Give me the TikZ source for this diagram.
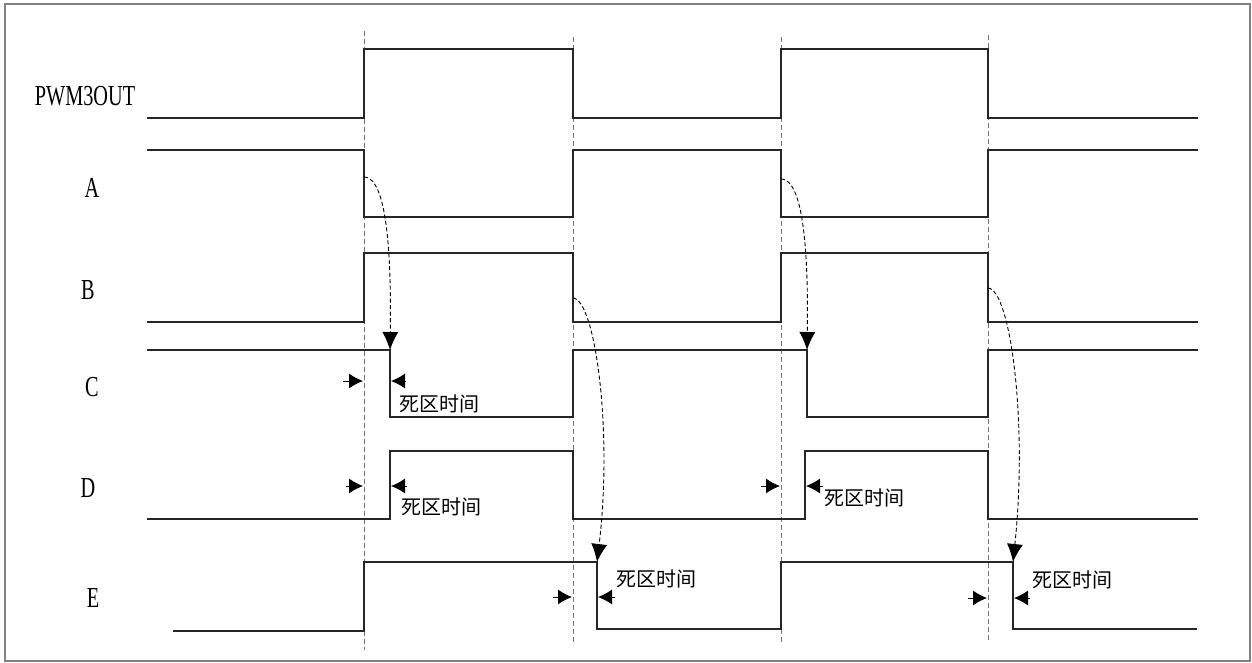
\documentclass[tikz,border=0pt]{standalone}
\usepackage{fontspec}
\setmainfont{Liberation Serif}
\newfontfamily\cjk{Noto Sans CJK SC}
\usepackage{tikz}
\usetikzlibrary{arrows.meta,calc,positioning}
\tikzset{%
	signal/.style   = {line width=1.3pt, black!85, line join=miter}, % waveform
	guide/.style    = {gray!90!black, line width=0.9pt, dash pattern=on 5pt off 3pt}, % edge line
	cause/.style    = {line width=0.9pt, dash pattern=on 4pt off 2.5pt, arrows={-Latex[length=18pt,width=16pt]}},
	gap/.style      = {line width=0.9pt, arrows={-Latex[length=14pt,width=15pt]}},
	signame/.style  = {inner sep=0pt, font=\fontsize{29}{29}\selectfont},
	dead/.style     = {inner sep=0pt, anchor=west, font=\cjk\fontsize{20}{20}\selectfont},
}
\newcommand{\sname}[1]{\scalebox{0.7}[1]{#1}}

\begin{document}
\begin{tikzpicture}[x=1pt,y=-1pt]
	\useasboundingbox (0,0) rectangle (1252,662);
	\draw[gray, line width=1.4pt] (5,4) rectangle (1250,661);

	% signal names
	\node [signame] (pwm) at (85,96)  {\sname{PWM3OUT}};
	\node [signame] (a)   at (92,188) {\sname{A}};
	\node [signame] (b)   at (88,290) {\sname{B}};
	\node [signame] (c)   at (92,387) {\sname{C}};
	\node [signame] (d)   at (88,488) {\sname{D}};
	\node [signame] (e)   at (93,598) {\sname{E}};

	% edges of PWM3OUT
	\foreach \x/\t/\b in {364/31/650, 573/37/645, 781/37/643, 988/35/641}
		\draw[guide] (\x,\t) -- (\x,\b);

	% waveforms
	\draw[signal] (147,118) -- (364,118) -- (364,49) -- (573,49) -- (573,118) -- (781,118)
		-- (781,49) -- (988,49) -- (988,118) -- (1198,118);
	\draw[signal] (147,150) -- (364,150) -- (364,217) -- (573,217) -- (573,150) -- (781,150)
		-- (781,217) -- (988,217) -- (988,150) -- (1198,150);
	\draw[signal] (147,322) -- (364,322) -- (364,253) -- (573,253) -- (573,322) -- (781,322)
		-- (781,253) -- (988,253) -- (988,322) -- (1198,322);
	\draw[signal] (147,350) -- (390,350) -- (390,417) -- (573,417) -- (573,350) -- (807,350)
		-- (807,417) -- (988,417) -- (988,350) -- (1198,350);
	\draw[signal] (147,519) -- (390,519) -- (390,451) -- (573,451) -- (573,519) -- (805,519)
		-- (805,451) -- (988,451) -- (988,519) -- (1198,519);
	\draw[signal] (173,631) -- (364,631) -- (364,562) -- (597,562) -- (597,629) -- (781,629)
		-- (781,562) -- (1013,562) -- (1013,629) -- (1197,629);

	% cause -> effect
	\coordinate (af1) at (364,177);  \coordinate (cf1) at (390,350);
	\coordinate (bf1) at (573,298);  \coordinate (ef1) at (597,562);
	\coordinate (af2) at (781,179);  \coordinate (cf2) at (807,350);
	\coordinate (bf2) at (988,288);  \coordinate (ef2) at (1013,562);
	\draw[cause] (af1) .. controls (380,177) and (392,215) .. (cf1);
	\draw[cause] (bf1) .. controls (595,299) and (613,430) .. (ef1);
	\draw[cause] (af2) .. controls (797,179) and (809,217) .. (cf2);
	\draw[cause] (bf2) .. controls (1010,289) and (1028,420) .. (ef2);

	% dead time marks
	\coordinate (c1l) at (343,381);  \coordinate (c1r) at (405,381);
	\coordinate (d1l) at (346,486);  \coordinate (d1r) at (407,486);
	\coordinate (e1l) at (553,597);  \coordinate (e1r) at (615,597);
	\coordinate (d2l) at (761,486);  \coordinate (d2r) at (823,486);
	\coordinate (e2l) at (968,598);  \coordinate (e2r) at (1030,598);
	\draw[gap] (c1l) -- (363,381);  \draw[gap] (c1r) -- (391,381);
	\draw[gap] (d1l) -- (363,486);  \draw[gap] (d1r) -- (391,486);
	\draw[gap] (e1l) -- (572,597);  \draw[gap] (e1r) -- (598,597);
	\draw[gap] (d2l) -- (780,486);  \draw[gap] (d2r) -- (806,486);
	\draw[gap] (e2l) -- (987,598);  \draw[gap] (e2r) -- (1014,598);

	\node [dead] (tc1) at (399,404) {死区时间};
	\node [dead] (td1) at (401,507) {死区时间};
	\node [dead] (te1) at (616,579) {死区时间};
	\node [dead] (td2) at (824,498) {死区时间};
	\node [dead] (te2) at (1032,580) {死区时间};
\end{tikzpicture}
\end{document}
